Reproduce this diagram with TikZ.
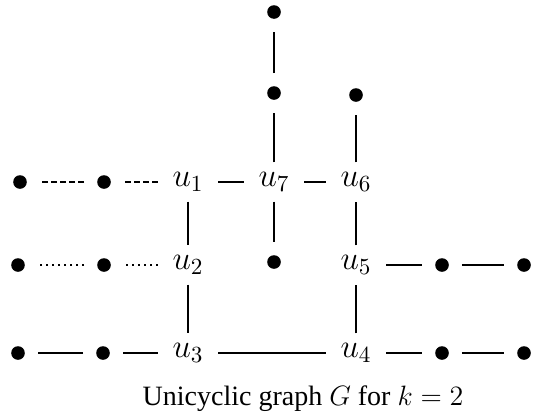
\RequirePackage{fix-cm}
\documentclass[tikz,border=0pt]{standalone}
\usepackage{fontspec}
\setmainfont{Liberation Serif}
\usetikzlibrary{positioning}

\tikzset{
  vtx/.style={circle,fill=black,inner sep=0pt,minimum size=6.8pt,outer sep=6.5pt},
  lbl/.style={inner sep=0pt,outer xsep=7.5pt,outer ysep=5pt,font=\fontsize{16.5}{19}\selectfont},
  edg/.style={line width=1pt},
  dsh/.style={line width=0.55pt,dash pattern=on 3pt off 1.5pt},
  dtt/.style={line width=0.55pt,dash pattern=on 1pt off 2pt}
}

\begin{document}
\begin{tikzpicture}[x=0.5pt,y=-0.5pt,on grid]
  \useasboundingbox[fill=white] (0,0) rectangle (533,418);
  % the cycle
  \node[lbl] (u3) at (188,353) {$u_3$};
  \node[lbl,above=44pt of u3] (u2) {$u_2$};
  \node[lbl,above=41.5pt of u2] (u1) {$u_1$};
  \node[lbl,right=43pt of u1] (u7) {$u_7$};
  \node[lbl,right=41pt of u7] (u6) {$u_6$};
  \node[lbl,below=41.5pt of u6] (u5) {$u_5$};
  \node[lbl,below=44pt of u5] (u4) {$u_4$};

  % pendant paths
  \node[vtx,above=44.5pt of u7] (t1) {};
  \node[vtx,above=40.5pt of t1] (t0) {};
  \node[vtx,below=40pt of u7] (m7) {};
  \node[vtx,above=43.5pt of u6] (s6) {};
  \node[vtx,right=43pt of u5] (r51) {};
  \node[vtx,right=41pt of r51] (r52) {};
  \node[vtx,right=43pt of u4] (r41) {};
  \node[vtx,right=41pt of r41] (r42) {};
  \node[vtx,left=42.5pt of u3] (l31) {};
  \node[vtx,left=42.5pt of l31] (l32) {};
  \node[vtx,left=42pt of u2] (l21) {};
  \node[vtx,left=43pt of l21] (l22) {};
  \node[vtx,left=42pt of u1] (l11) {};
  \node[vtx,left=42pt of l11] (l12) {};

  \node[font=\fontsize{14}{16}\selectfont] (cap) at (303,399)
    {Unicyclic graph $G$ for $k=2$};

  \foreach \u/\v in {u1/u2,u2/u3,u3/u4,u4/u5,u5/u6,u6/u7,u7/u1,
                     u7/t1,t1/t0,u7/m7,u6/s6,u5/r51,r51/r52,
                     u4/r41,r41/r42,u3/l31,l31/l32}
    \draw[edg] (\u) -- (\v);
  \foreach \u/\v in {u1/l11,l11/l12}
    \draw[dsh] (\u) -- (\v);
  \foreach \u/\v in {u2/l21,l21/l22}
    \draw[dtt] (\u) -- (\v);
\end{tikzpicture}
\end{document}
